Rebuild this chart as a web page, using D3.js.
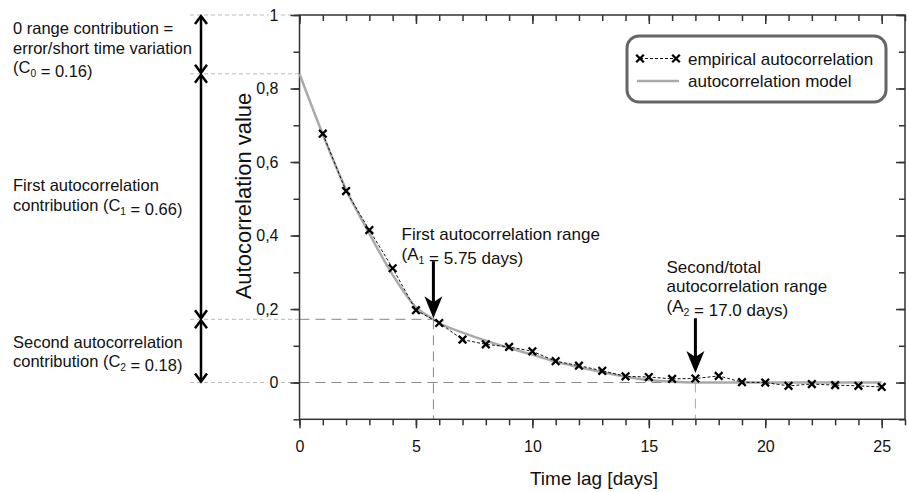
<!DOCTYPE html>
<html>
<head>
<meta charset="utf-8">
<script src="https://cdn.jsdelivr.net/npm/d3@7"></script>
<style>
  body { margin: 0; background: #fff; }
  svg { font-family: "Liberation Sans", Arial, sans-serif; }
</style>
</head>
<body>
<div id="chart"></div>
<script>
// Empirical autocorrelation, lag 1..25 days
var lags = [1, 2, 3, 4, 5, 6, 7, 8, 9, 10, 11, 12, 13, 14, 15, 16, 17, 18, 19, 20, 21, 22, 23, 24, 25];
var empirical = [0.677, 0.521, 0.415, 0.311, 0.197, 0.162, 0.117, 0.104, 0.097, 0.085, 0.058, 0.046, 0.032,
  0.017, 0.015, 0.010, 0.011, 0.018, 0.001, 0.000, -0.009, -0.004, -0.007, -0.009, -0.012];

// Fitted model curve
var modelLag = [0, 1, 2, 3, 4, 5, 5.75, 6, 7, 8, 9, 10, 11, 12, 13, 14, 15, 16, 17, 25];
var modelValue = [0.84, 0.675, 0.525, 0.405, 0.293, 0.205, 0.172, 0.162, 0.136, 0.114, 0.094, 0.076, 0.057,
  0.042, 0.028, 0.016, 0.007, 0.002, 0, 0];

// Tick labels
var xTicks = [0, 5, 10, 15, 20, 25];
var yTicks = [0, 0.2, 0.4, 0.6, 0.8, 1];

// Contribution levels (sill partitions) and ranges
var levels = [1, 0.84, 0.172, 0];
var ranges = [5.75, 17.0];

var svgWidth = 907;
var svgHeight = 492;

var margin = { top: 15, right: 2, bottom: 72.7, left: 299.5 };
var chartWidth = svgWidth - margin.left - margin.right;
var chartHeight = svgHeight - margin.top - margin.bottom;

var svg = d3.select("#chart")
  .append("svg")
  .attr("width", svgWidth)
  .attr("height", svgHeight);

var x = d3.scaleLinear().domain([0, 26]).range([margin.left, margin.left + chartWidth]);
var y = d3.scaleLinear().domain([-0.1, 1]).range([margin.top + chartHeight, margin.top]);

var commaFmt = d => d === 0 || d === 1 ? String(d) : d3.format(".1f")(d).replace(".", ",");

// Light dashed guides to the left of the axis
svg.selectAll(".guide")
  .data(levels)
  .join("line")
  .attr("x1", 190)
  .attr("x2", x(0))
  .attr("y1", d => y(d))
  .attr("y2", d => y(d))
  .attr("stroke", "#bbb")
  .attr("stroke-width", 1)
  .attr("stroke-dasharray", "4,3");

// Darker dashed guides inside the plot
var inner = svg.append("g")
  .attr("stroke", "#888")
  .attr("stroke-width", 1)
  .attr("stroke-dasharray", "10,6");
inner.append("line")
  .attr("x1", x(0)).attr("x2", x(ranges[0]))
  .attr("y1", y(levels[2])).attr("y2", y(levels[2]));
inner.append("line")
  .attr("x1", x(ranges[0])).attr("x2", x(ranges[0]))
  .attr("y1", y(levels[2])).attr("y2", y(-0.1));
inner.append("line")
  .attr("x1", x(0)).attr("x2", x(ranges[1]))
  .attr("y1", y(0)).attr("y2", y(0));
inner.append("line")
  .attr("x1", x(ranges[1])).attr("x2", x(ranges[1]))
  .attr("y1", y(0)).attr("y2", y(-0.1))
  .attr("stroke", "#aaa");

// Axes: outward ticks on bottom/left, inward mirror ticks on top/right
function addAxis(axis, transform) {
  var g = svg.append("g").attr("transform", transform).call(axis);
  g.select(".domain").remove();
  g.selectAll(".tick line").attr("stroke", "#333").attr("stroke-width", 1.5);
  g.selectAll(".tick text")
    .attr("font-size", "16px")
    .attr("fill", "#111")
    .attr("font-family", "Liberation Sans, Arial, sans-serif");
  return g;
}
var minorX = d3.range(0, 27);
var minorY = d3.range(-0.1, 1.05, 0.1);

addAxis(d3.axisBottom(x).tickValues(xTicks).tickSize(9).tickPadding(9), `translate(0,${y(-0.1)})`)
  .selectAll(".tick text").attr("dy", "0.9em");
addAxis(d3.axisBottom(x).tickValues(minorX).tickSize(6).tickFormat(""), `translate(0,${y(-0.1)})`);
addAxis(d3.axisBottom(x).tickValues(xTicks).tickSize(9).tickFormat(""), `translate(0,${y(1)})`);
addAxis(d3.axisBottom(x).tickValues(minorX).tickSize(6).tickFormat(""), `translate(0,${y(1)})`);

addAxis(d3.axisLeft(y).tickValues(yTicks).tickSize(9).tickPadding(12).tickFormat(commaFmt), `translate(${x(0)},0)`)
  .selectAll(".tick text")
  .attr("stroke", "#fff")
  .attr("stroke-width", 5)
  .attr("paint-order", "stroke");
addAxis(d3.axisLeft(y).tickValues(minorY).tickSize(6).tickFormat(""), `translate(${x(0)},0)`);
addAxis(d3.axisLeft(y).tickValues(yTicks).tickSize(9).tickFormat(""), `translate(${x(26)},0)`);
addAxis(d3.axisLeft(y).tickValues(minorY).tickSize(6).tickFormat(""), `translate(${x(26)},0)`);

// Frame
svg.append("rect")
  .attr("x", x(0))
  .attr("y", y(1))
  .attr("width", x(26) - x(0))
  .attr("height", y(-0.1) - y(1))
  .attr("fill", "none")
  .attr("stroke", "#333")
  .attr("stroke-width", 1.5);

// Model curve
var modelData = modelLag.map((d, i) => [d, modelValue[i]]);
svg.append("path")
  .datum(modelData)
  .attr("d", d3.line().x(d => x(d[0])).y(d => y(d[1])).curve(d3.curveMonotoneX))
  .attr("fill", "none")
  .attr("stroke", "#aaa")
  .attr("stroke-width", 2.5);

// Empirical line + markers
var empData = lags.map((d, i) => [d, empirical[i]]);
svg.append("path")
  .datum(empData)
  .attr("d", d3.line().x(d => x(d[0])).y(d => y(d[1])))
  .attr("fill", "none")
  .attr("stroke", "#111")
  .attr("stroke-width", 1)
  .attr("stroke-dasharray", "3,2");

function cross(cx, cy) {
  var s = 3.8;
  return `M${cx - s},${cy - s}L${cx + s},${cy + s}M${cx - s},${cy + s}L${cx + s},${cy - s}`;
}
svg.selectAll(".pt")
  .data(empData)
  .join("path")
  .attr("d", d => cross(x(d[0]), y(d[1])))
  .attr("stroke", "#000")
  .attr("stroke-width", 2.3)
  .attr("fill", "none");

// Axis titles
svg.append("text")
  .attr("x", 594)
  .attr("y", 485)
  .attr("text-anchor", "middle")
  .attr("font-size", "19px")
  .attr("fill", "#111")
  .text("Time lag [days]");

svg.append("text")
  .attr("transform", `translate(251,196) rotate(-90)`)
  .attr("text-anchor", "middle")
  .attr("font-size", "22px")
  .attr("fill", "#111")
  .text("Autocorrelation value");

// Legend
var legend = svg.append("g");
legend.append("rect")
  .attr("x", 627).attr("y", 36)
  .attr("width", 259).attr("height", 66)
  .attr("rx", 12)
  .attr("fill", "#fff")
  .attr("stroke", "#666")
  .attr("stroke-width", 3);
legend.append("line")
  .attr("x1", 640).attr("x2", 676).attr("y1", 58.5).attr("y2", 58.5)
  .attr("stroke", "#111").attr("stroke-width", 1).attr("stroke-dasharray", "3,2");
legend.selectAll(".lx")
  .data([640, 676])
  .join("path")
  .attr("d", d => cross(d, 58.5))
  .attr("stroke", "#000").attr("stroke-width", 2.3);
legend.append("line")
  .attr("x1", 637).attr("x2", 679).attr("y1", 81).attr("y2", 81)
  .attr("stroke", "#aaa").attr("stroke-width", 2.5);
legend.append("text")
  .attr("x", 688).attr("y", 64.5)
  .attr("font-size", "17px").attr("fill", "#111")
  .text("empirical autocorrelation");
legend.append("text")
  .attr("x", 688).attr("y", 87)
  .attr("font-size", "17px").attr("fill", "#111")
  .text("autocorrelation model");

// Multi-line label helper, parts = [[text, sub], ...]
function label(px, lines, size) {
  var t = svg.append("text")
    .attr("font-size", size + "px")
    .attr("fill", "#111");
  lines.forEach(function(l) {
    var first = true;
    l.parts.forEach(function(p) {
      var ts = t.append("tspan").text(p[0]);
      if (first) ts.attr("x", px).attr("y", l.y);
      first = false;
      if (p[1]) {
        t.append("tspan").attr("dy", 4).attr("font-size", (size * 0.62) + "px").text(p[1]);
        t.append("tspan").attr("dy", -4).text("");
      }
    });
  });
}

label(13, [
  { y: 34, parts: [["0 range contribution ="]] },
  { y: 53.5, parts: [["error/short time variation"]] },
  { y: 73, parts: [["(C", "0"], [" = 0.16)"]] }
], 16.5);
label(13, [
  { y: 191, parts: [["First autocorrelation"]] },
  { y: 211, parts: [["contribution (C", "1"], [" = 0.66)"]] }
], 16.5);
label(13, [
  { y: 347.5, parts: [["Second autocorrelation"]] },
  { y: 367, parts: [["contribution (C", "2"], [" = 0.18)"]] }
], 16.5);

label(401.5, [
  { y: 239.5, parts: [["First autocorrelation range"]] },
  { y: 259.5, parts: [["(A", "1"], [" = 5.75 days)"]] }
], 17);
label(666.5, [
  { y: 272.5, parts: [["Second/total"]] },
  { y: 292, parts: [["autocorrelation range"]] },
  { y: 311.5, parts: [["(A", "2"], [" = 17.0 days)"]] }
], 17);

// Left double arrows for the contributions
var ax = 201;
var arrows = svg.append("g")
  .attr("stroke", "#000")
  .attr("stroke-width", 2.5)
  .attr("fill", "none");
d3.pairs(levels).forEach(function(p) {
  var y0 = y(p[0]), y1 = y(p[1]);
  arrows.append("line").attr("x1", ax).attr("x2", ax).attr("y1", y0 + 1).attr("y2", y1 - 1);
  arrows.append("path").attr("d", `M${ax - 6},${y0 + 9}L${ax},${y0 + 1}L${ax + 6},${y0 + 9}`);
  arrows.append("path").attr("d", `M${ax - 6},${y1 - 9}L${ax},${y1 - 1}L${ax + 6},${y1 - 9}`);
});

// Down arrows marking the ranges
var rangeArrows = [
  { lag: ranges[0], from: 0.33, to: 0.175 },
  { lag: ranges[1], from: 0.175, to: 0.026 }
];
rangeArrows.forEach(function(a) {
  var px = x(a.lag), top = y(a.from), tip = y(a.to);
  svg.append("line")
    .attr("x1", px).attr("x2", px)
    .attr("y1", top).attr("y2", tip - 12)
    .attr("stroke", "#000").attr("stroke-width", 3);
  svg.append("path")
    .attr("d", `M${px},${tip}L${px - 9},${tip - 22}L${px},${tip - 16}L${px + 9},${tip - 22}Z`)
    .attr("fill", "#000");
});
</script>
</body>
</html>
